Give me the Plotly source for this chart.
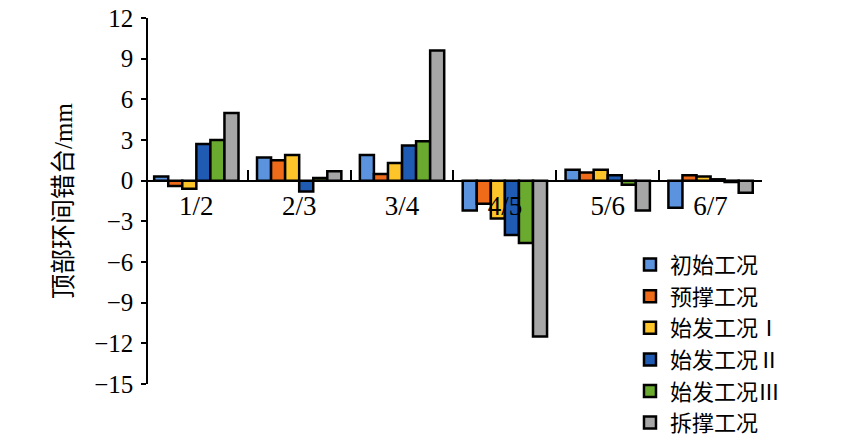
import plotly.graph_objects as go

categories = ["1/2", "2/3", "3/4", "4/5", "5/6", "6/7"]
series_names = ["初始工况", "预撑工况", "始发工况Ⅰ", "始发工况Ⅱ", "始发工况Ⅲ", "拆撑工况"]
initial = [0.3, 1.7, 1.9, -2.2, 0.8, -2.0]
pre_support = [-0.4, 1.5, 0.5, -1.7, 0.6, 0.4]
launch_1 = [-0.6, 1.9, 1.3, -2.8, 0.8, 0.3]
launch_2 = [2.7, -0.8, 2.6, -4.0, 0.4, 0.1]
launch_3 = [3.0, 0.2, 2.9, -4.6, -0.3, -0.1]
removal = [5.0, 0.7, 9.6, -11.5, -2.2, -0.9]
colors = ["#5b93de", "#ef6b1a", "#fec52a", "#1f5bb3", "#6aab2f", "#a6a6a6"]
y_ticks = [12, 9, 6, 3, 0, -3, -6, -9, -12, -15]

FONT = "Liberation Serif, Noto Sans CJK SC, serif"

fig = go.Figure()
for name, vals, col in zip(series_names,
                           [initial, pre_support, launch_1, launch_2, launch_3, removal],
                           colors):
    fig.add_trace(go.Bar(
        name=name, x=categories, y=vals,
        marker=dict(color=col, line=dict(color="black", width=2.5)),
    ))

fig.update_layout(
    width=843, height=446,
    margin=dict(l=148, r=81, t=18, b=62, autoexpand=False),
    paper_bgcolor="white", plot_bgcolor="white",
    barmode="group", bargap=0.18, bargroupgap=0,
    font=dict(family=FONT, color="black"),
    showlegend=True,
    legend=dict(
        x=0.785, y=0.383, xanchor="left", yanchor="top",
        font=dict(family=FONT, size=22, color="black"),
        bgcolor="rgba(0,0,0,0)", tracegroupgap=0,
    ),
    xaxis=dict(
        type="category", range=[-0.47, 5.5],
        anchor="free", position=15/27,
        showline=True, linecolor="black", linewidth=1.5,
        ticks="inside", tickson="boundaries", ticklen=10,
        tickcolor="black", tickwidth=1.5,
        ticklabelstandoff=1,
        tickfont=dict(family=FONT, size=27, color="black"),
        showgrid=False, zeroline=False,
    ),
    yaxis=dict(
        range=[-15, 12], tickvals=y_ticks,
        showline=True, linecolor="black", linewidth=1.5,
        ticks="outside", ticklen=5, tickcolor="black", tickwidth=1.5,
        ticklabelstandoff=3,
        tickfont=dict(family=FONT, size=25, color="black"),
        showgrid=False, zeroline=False,
        title=dict(text="顶部环间错台/mm", standoff=14,
                   font=dict(family=FONT, size=25, color="black")),
    ),
)

fig.write_html("out.html", config={"displayModeBar": False},
               post_script="document.body.style.margin='0';")
